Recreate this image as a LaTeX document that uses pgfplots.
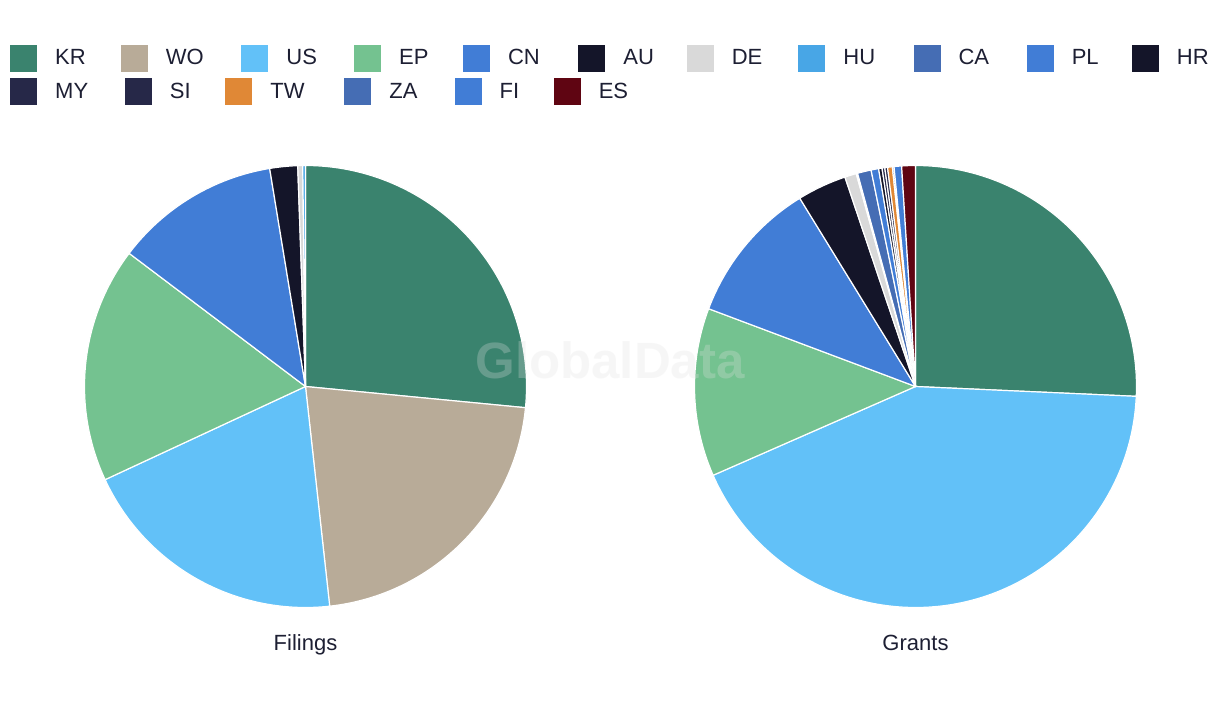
\documentclass[border=0pt]{standalone}
\usepackage{fontspec}
\setmainfont{Liberation Sans}
\usepackage{pgfplots}
\usepackage{pgfplotstable}
\pgfplotsset{compat=1.18}

\definecolor{cKR}{HTML}{3A836E}
\definecolor{cWO}{HTML}{B8AB98}
\definecolor{cUS}{HTML}{62C1F8}
\definecolor{cEP}{HTML}{74C290}
\definecolor{cCN}{HTML}{417DD6}
\definecolor{cAU}{HTML}{141529}
\definecolor{cDE}{HTML}{D9D9D9}
\definecolor{cHU}{HTML}{48A6E6}
\definecolor{cCA}{HTML}{456DB4}
\definecolor{cPL}{HTML}{417DD6}
\definecolor{cHR}{HTML}{141529}
\definecolor{cMY}{HTML}{262848}
\definecolor{cSI}{HTML}{262848}
\definecolor{cTW}{HTML}{E08836}
\definecolor{cZA}{HTML}{456DB4}
\definecolor{cFI}{HTML}{417DD6}
\definecolor{cES}{HTML}{5F0512}
\definecolor{textcol}{HTML}{1D1F33}

% share of filings (clockwise from 12 o'clock)
\pgfplotstableread{
code value
KR 26.5
WO 21.7
US 19.8
EP 17.2
CN 12.1
AU 2.03
DE 0.36
HU 0.2
}\filingsdata

% share of grants (clockwise from 12 o'clock)
\pgfplotstableread{
code value
KR 25.7
WO 0
US 42.7
EP 12.3
CN 10.5
AU 3.6
DE 0.85
HU 0.1
CA 1.0
PL 0.55
HR 0.25
MY 0.2
SI 0.2
TW 0.35
ZA 0.12
FI 0.55
ES 1.0
}\grantsdata

\newcommand\drawpie[1]{%
  \pgfplotstablegetrowsof{#1}\pgfmathtruncatemacro\pieN{\pgfplotsretval-1}%
  \def\pietotal{0}%
  \pgfplotsforeachungrouped \i in {0,...,\pieN}{%
    \pgfplotstablegetelem{\i}{value}\of{#1}%
    \pgfmathsetmacro\pietotal{\pietotal+\pgfplotsretval}%
  }%
  \def\piecum{0}%
  \pgfplotsforeachungrouped \i in {0,...,\pieN}{%
    \pgfplotstablegetelem{\i}{value}\of{#1}\let\pieval\pgfplotsretval
    \pgfplotstablegetelem{\i}{code}\of{#1}\let\piecode\pgfplotsretval
    \pgfmathsetmacro\piea{90-(\piecum/\pietotal)*360}%
    \pgfmathsetmacro\piecum{\piecum+\pieval}%
    \pgfmathsetmacro\pieb{90-(\piecum/\pietotal)*360}%
    \ifdim\pieval pt>0pt
      \edef\temp{\noexpand\fill[c\piecode, draw=white, line width=0.6pt, line join=round] (axis cs:0,0) -- (axis cs:{cos(\piea)},{sin(\piea)}) arc[start angle=\piea, end angle=\pieb, radius=110.5pt] -- cycle;}%
      \temp
    \fi
  }%
}

\pgfplotsset{
  piestyle/.style={
    x=110.5pt, y=110.5pt,
    xmin=-1, xmax=1, ymin=-1, ymax=1,
    hide axis, clip=false, anchor=center,
    legend columns=-1,
    legend cell align=left,
    legend image code/.code={\fill[##1] (0pt,-6.75pt) rectangle (13.5pt,6.75pt); \path (22.5pt,0pt);},
    legend style={draw=none, fill=none, inner sep=0pt, outer sep=0pt,
      column sep=0pt, row sep=0pt, anchor=west,
      font=\fontsize{11}{13}\selectfont, text=textcol,
      nodes={inner sep=0pt, outer sep=0pt},
      /tikz/every odd column/.append style={column sep=0pt},
      /tikz/every even column/.append style={column sep=0pt}},
  }
}

\begin{document}
\begin{tikzpicture}
\fill[white, use as bounding box] (0,0) rectangle (610pt,360pt);

\begin{axis}[piestyle, at={(152.75pt,166.75pt)},
  legend style={at={(-0.1681,1.2432)}}]
  \drawpie{\filingsdata}
  \addlegendimage{fill=cKR, draw=none}\addlegendentry{\makebox[32.8pt][l]{KR}}
  \addlegendimage{fill=cWO, draw=none}\addlegendentry{\makebox[37.85pt][l]{WO}}
  \addlegendimage{fill=cUS, draw=none}\addlegendentry{\makebox[33.85pt][l]{US}}
  \addlegendimage{fill=cEP, draw=none}\addlegendentry{\makebox[31.95pt][l]{EP}}
  \addlegendimage{fill=cCN, draw=none}\addlegendentry{\makebox[35.15pt][l]{CN}}
  \addlegendimage{fill=cAU, draw=none}\addlegendentry{\makebox[31.7pt][l]{AU}}
  \addlegendimage{fill=cDE, draw=none}\addlegendentry{\makebox[33.3pt][l]{DE}}
  \addlegendimage{fill=cHU, draw=none}\addlegendentry{\makebox[35.1pt][l]{HU}}
  \addlegendimage{fill=cCA, draw=none}\addlegendentry{\makebox[34.1pt][l]{CA}}
  \addlegendimage{fill=cPL, draw=none}\addlegendentry{\makebox[30.1pt][l]{PL}}
  \addlegendimage{fill=cHR, draw=none}\addlegendentry{HR}
  \node[text=textcol, anchor=base, inner sep=0pt, font=\fontsize{11}{13}\selectfont] at (axis description cs:0.5,-0.0973) {Filings};
\end{axis}

\begin{axis}[piestyle, at={(457.75pt,166.75pt)},
  legend style={at={(-1.5482,1.1663)}}]
  \drawpie{\grantsdata}
  \addlegendimage{fill=cMY, draw=none}\addlegendentry{\makebox[34.9pt][l]{MY}}
  \addlegendimage{fill=cSI, draw=none}\addlegendentry{\makebox[27.7pt][l]{SI}}
  \addlegendimage{fill=cTW, draw=none}\addlegendentry{\makebox[37.05pt][l]{TW}}
  \addlegendimage{fill=cZA, draw=none}\addlegendentry{\makebox[32.6pt][l]{ZA}}
  \addlegendimage{fill=cFI, draw=none}\addlegendentry{\makebox[27.05pt][l]{FI}}
  \addlegendimage{fill=cES, draw=none}\addlegendentry{ES}
  \node[text=textcol, anchor=base, inner sep=0pt, font=\fontsize{11}{13}\selectfont] at (axis description cs:0.5,-0.0973) {Grants};
  \node[text={rgb,255:red,225;green,225;blue,225}, opacity=0.27, font=\bfseries\fontsize{25.5}{30}\selectfont] at (axis description cs:-0.1912,0.560) {GlobalData};
\end{axis}
\end{tikzpicture}
\end{document}
